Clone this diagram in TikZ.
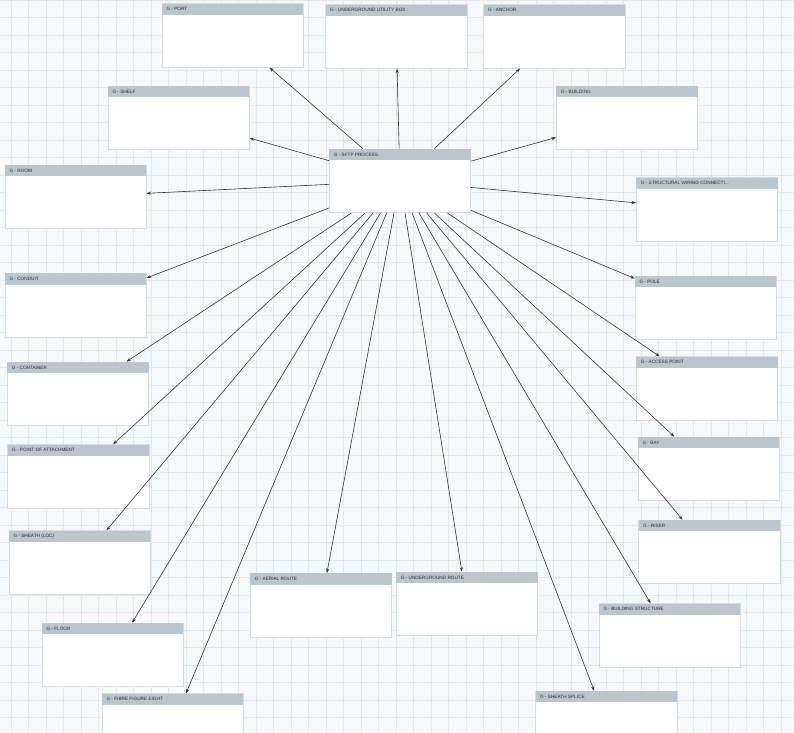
\documentclass[tikz,border=0pt]{standalone}
\usepackage{fontspec}
\newfontfamily\labfont{Liberation Sans}
\usetikzlibrary{arrows.meta}
\definecolor{bgc}{HTML}{F6F8FA}
\definecolor{gridc}{HTML}{E3E7EA}
\definecolor{hdrc}{HTML}{B9C6CD}
\definecolor{edgec}{HTML}{D6DBDE}
\definecolor{linec}{HTML}{333333}
\definecolor{txtc}{HTML}{2A2A2A}
\tikzset{
  gbox/.style={draw=edgec, fill=white, line width=0.6pt, minimum width=141.3pt, minimum height=63.7pt, inner sep=0pt, anchor=north west},
  hdr/.style={fill=hdrc},
  lbl/.style={anchor=west, inner sep=0pt, text=txtc, font=\labfont\fontsize{4.7}{5}\selectfont},
  conn/.style={draw=linec, line width=0.6pt, -{Stealth[length=4.5pt,width=3.2pt]}},
  gridline/.style={draw=gridc, line width=0.8pt}
}
\newcommand\gbox[4]{%
  \node[gbox] (#1) at (#2,#3) {};
  \fill[hdr] ([xshift=0.3pt,yshift=-0.3pt]#1.north west) rectangle ([xshift=-0.3pt,yshift=-11.5pt]#1.north east);
  \node[lbl] (#1-l) at ([xshift=4.6pt,yshift=-5.9pt]#1.north west) {#4};
}
\begin{document}
\begin{tikzpicture}[x=1pt,y=-1pt]
\clip (0,0) rectangle (794,732);
\fill[bgc] (0,0) rectangle (794,732);
\foreach \i in {0,...,45} { \draw[gridline] ({11+17.5*\i},0) -- ({11+17.5*\i},732); }
\foreach \j in {0,...,42} { \draw[gridline] (0,{17.5*\j}) -- (794,{17.5*\j}); }

\gbox{port}{161.7}{3.3}{G - PORT}
\gbox{uub}{325.3}{4.3}{G - UNDERGROUND UTILITY BOX}
\gbox{anchor}{483.3}{4.3}{G - ANCHOR}
\gbox{shelf}{107.7}{85.7}{G - SHELF}
\gbox{building}{556}{85.7}{G - BUILDING}
\gbox{sftp}{329}{148.7}{G - SFTP PROCESS}
\gbox{room}{4.7}{164.7}{G - ROOM}
\gbox{swc}{636}{177.3}{G - STRUCTURAL WIRING CONNECTI...}
\gbox{conduit}{4.7}{273}{G - CONDUIT}
\gbox{pole}{634.7}{275.7}{G - POLE}
\gbox{container}{7}{361.7}{G - CONTAINER}
\gbox{ap}{636}{356.3}{G - ACCESS POINT}
\gbox{poa}{7.3}{444.3}{G - POINT OF ATTACHMENT}
\gbox{bay}{637.7}{436.7}{G - BAY}
\gbox{sheathloc}{8.7}{530.3}{G - SHEATH (LOC)}
\gbox{riser}{638.3}{519.7}{G - RISER}
\gbox{aerial}{250}{573}{G - AERIAL ROUTE}
\gbox{ugroute}{396}{571.7}{G - UNDERGROUND ROUTE}
\gbox{bstruct}{598.7}{603.3}{G - BUILDING STRUCTURE}
\gbox{floor}{41.7}{622.7}{G - FLOOR}
\gbox{fig8}{101.7}{693.3}{G - FIBRE FIGURE EIGHT}
\gbox{splice}{535.3}{690.7}{G - SHEATH SPLICE}

\foreach \t in {port,uub,anchor,shelf,building,room,swc,conduit,pole,container,ap,poa,bay,sheathloc,riser,aerial,ugroute,bstruct,floor,fig8,splice}
  { \draw[conn] (sftp) -- (\t); }
\end{tikzpicture}
\end{document}
